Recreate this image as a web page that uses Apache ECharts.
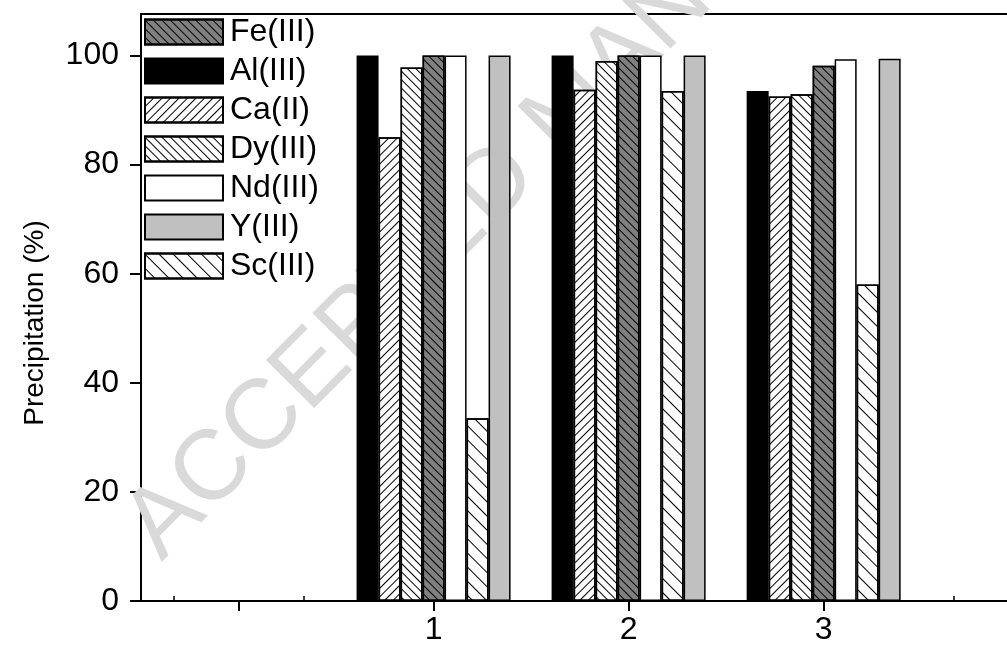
<!DOCTYPE html>
<html>
<head>
<meta charset="utf-8">
<script src="https://cdn.jsdelivr.net/npm/echarts@6/dist/echarts.min.js"></script>
<style>
html,body{margin:0;padding:0;background:#fff;}
#chart{width:1007px;height:646px;}
</style>
</head>
<body>
<div id="chart"></div>
<script>
// ---- data ----
const groups = [1, 2, 3];
const alIII = [100, 100, 93.5];
const caII  = [85.0, 93.7, 92.5];
const dyIII = [97.8, 99.0, 92.9];
const feIII = [100, 100, 98.1];
const ndIII = [100, 100, 99.3];
const scIII = [33.5, 93.5, 58.0];
const yIII  = [100, 100, 99.4];
const yTicks = [0, 20, 40, 60, 80, 100];
const xMajorTicks = [0, 1, 2, 3];
const xLabels = [1, 2, 3];
const xMinorTicks = [-1/3, 1/3, 2/3, 4/3, 5/3, 7/3, 8/3, 10/3, 11/3];
const legendOrder = ['Fe(III)', 'Al(III)', 'Ca(II)', 'Dy(III)', 'Nd(III)', 'Y(III)', 'Sc(III)'];

const FONT = "Arial, 'Liberation Sans', sans-serif";

function hatch(rot, gap) {
  return {symbol: 'rect', symbolSize: 1, dashArrayX: [1, 0], dashArrayY: [1, gap],
          rotation: rot, color: '#000'};
}
function pairs(vals) { return groups.map((g, i) => [g, vals[i]]); }

function bar(name, vals, color, decal) {
  const s = {
    name: name, type: 'bar', xAxisIndex: 0, yAxisIndex: 0,
    data: pairs(vals), barWidth: 22, barGap: '0%',
    itemStyle: {color: color, borderColor: '#000', borderWidth: 1.5},
    emphasis: {disabled: true}, z: 3
  };
  if (decal) s.itemStyle.decal = decal;
  return s;
}

const chart = echarts.init(document.getElementById('chart'), null, {renderer: 'canvas'});
chart.setOption({
  animation: false,
  backgroundColor: '#fff',
  grid: {left: 141, top: 14, right: 0, bottom: 44, show: false},
  legend: {
    data: legendOrder, orient: 'vertical', left: 144, top: 16, padding: 0,
    itemWidth: 78, itemHeight: 25, itemGap: 7, icon: 'rect',
    textStyle: {fontSize: 32, fontFamily: FONT, color: '#000', padding: [0, 0, 0, 2]},
    backgroundColor: 'transparent'
  },
  xAxis: [{
    type: 'value', min: -0.5, max: 3.94, position: 'bottom',
    axisLine: {onZero: false, lineStyle: {color: '#000', width: 2}},
    axisTick: {customValues: xMajorTicks, length: 10, lineStyle: {color: '#000', width: 2}},
    axisLabel: {customValues: xLabels, fontSize: 32, fontFamily: FONT, color: '#000', margin: 13},
    splitLine: {show: false}
  }, {
    type: 'value', min: -0.5, max: 3.94, position: 'bottom',
    axisLine: {show: false},
    axisTick: {customValues: xMinorTicks, inside: true, length: 5, lineStyle: {color: '#000', width: 1.5}},
    axisLabel: {show: false},
    splitLine: {show: false}
  }, {
    type: 'value', min: -0.5, max: 3.94, position: 'top',
    axisLine: {onZero: false, lineStyle: {color: '#000', width: 2}},
    axisTick: {show: false},
    axisLabel: {show: false},
    splitLine: {show: false}
  }],
  yAxis: {
    type: 'value', min: 0, max: 107.6,
    axisLine: {show: true, onZero: false, lineStyle: {color: '#000', width: 2}},
    axisTick: {show: true, customValues: yTicks, length: 11, lineStyle: {color: '#000', width: 2}},
    axisLabel: {customValues: yTicks, fontSize: 32, fontFamily: FONT, color: '#000', margin: 22},
    splitLine: {show: false}
  },
  graphic: [{
    type: 'text', z: 1, x: 142, y: 543, rotation: 0.79,
    style: {text: 'ACCEPTED MANUSCRIPT', fontSize: 99, fontFamily: FONT, fill: '#d9d9d9',
            align: 'left', verticalAlign: 'middle'}
  }, {
    type: 'text', left: 21, top: 'middle', z: 10,
    style: {text: 'Precipitation (%)', fontSize: 28, fontFamily: FONT, fill: '#000'},
    rotation: Math.PI / 2
  }],
  series: [
    bar('Al(III)', alIII, '#000', null),
    bar('Ca(II)', caII, '#fff', hatch(-Math.PI / 4, 4.2)),
    bar('Dy(III)', dyIII, '#fff', hatch(Math.PI / 4, 4.2)),
    bar('Fe(III)', feIII, '#808080', hatch(Math.PI / 4, 4.2)),
    bar('Nd(III)', ndIII, '#fff', null),
    bar('Sc(III)', scIII, '#fff', hatch(Math.PI / 4, 8.5)),
    bar('Y(III)', yIII, '#c0c0c0', null)
  ]
});
</script>
</body>
</html>
